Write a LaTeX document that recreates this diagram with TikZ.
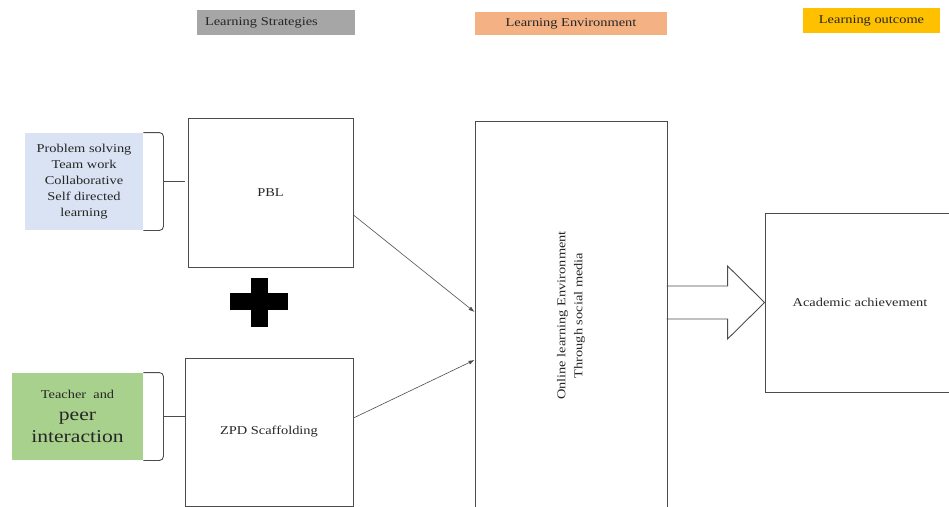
\documentclass[tikz,border=0pt]{standalone}
\usepackage{fontspec}
\setmainfont{Liberation Serif}[FakeStretch=1.2]
\usetikzlibrary{arrows.meta,calc}
\definecolor{stratgray}{HTML}{A6A6A6}
\definecolor{envorange}{HTML}{F4B183}
\definecolor{outgold}{HTML}{FFC000}
\definecolor{skillblue}{HTML}{DAE3F3}
\definecolor{peergreen}{HTML}{A9D18E}
\tikzset{
  box/.style={draw=black!70,line width=0.9pt,inner sep=0pt,text=black!85,
    font=\fontsize{12}{16}\selectfont},
  head/.style={inner sep=0pt,text=black!85,font=\fontsize{12}{14}\selectfont},
  link/.style={draw=black!70,line width=0.6pt,-{Latex[length=6pt,width=4pt]}},
  brc/.style={draw=black!70,line width=0.9pt,rounded corners=4pt},
}
\begin{document}
\begin{tikzpicture}[x=1pt,y=-1pt]
  \clip (0,0) rectangle (949,506);
  % Titulos
  \node[head,fill=stratgray,minimum height=25,text width=142,inner xsep=8pt,align=left]
    (strat) at (276,22.5) {Learning Strategies};
  \node[head,fill=envorange,minimum width=192,minimum height=23] (envhead) at (571,23.5) {Learning Environment};
  \node[head,fill=outgold,minimum width=137,minimum height=25] (outhead) at (871.5,20.5) {Learning outcome};
  % Estrategias
  \node[box,draw=none,fill=skillblue,minimum width=118,minimum height=97,align=center]
    (skills) at (84,181.5) {Problem solving\\Team work\\Collaborative\\Self directed\\learning};
  \node[box,minimum width=165,minimum height=149] (pbl) at (270.5,192.5) {PBL};
  \node[box,draw=none,fill=peergreen,minimum width=131,minimum height=87,align=center,
    font=\fontsize{18}{22}\selectfont] (peer) at (77.5,416.5)
    {{\fontsize{12}{14}\selectfont Teacher\ \ and}\\peer\\interaction};
  \node[box,minimum width=168,minimum height=148] (zpd) at (269,432) {ZPD Scaffolding};
  % Mais
  \fill (230,293) rectangle (288,310);
  \fill (251,278) rectangle (268,327);
  % Chaves
  \draw[brc] (skills.north east) -- ++(20,0) -- ($(skills.south east)+(20,0)$) -- (skills.south east);
  \draw[brc] ($(skills.east)+(20,0)$) -- ++(22,0);
  \draw[brc] (peer.north east) -- ++(20,0) -- ($(peer.south east)+(20,0)$) -- (peer.south east);
  \draw[brc] ($(peer.east)+(20,0)$) -- ++(22,0);
  % Ambiente
  \node[box,minimum width=192,minimum height=389] (env) at (571,315.5) {};
  \node[box,draw=none,rotate=90,align=center,font=\fontsize{12}{17}\selectfont] (envtext) at (env.center)
    {Online learning Environment\\Through social media};
  % Resultado
  \node[box,minimum width=190,minimum height=179] (out) at (860,302.5) {Academic achievement};
  % Setas
  \draw[link] ([yshift=-22.5pt]pbl.east) -- ([yshift=3.5pt]env.west);
  \draw[link] ([yshift=14pt]zpd.east) -- ([yshift=-44.5pt]env.west);
  \draw[draw=black!70,line width=0.9pt,line join=miter]
    ($(out.west)+(-98,-16.5)$) -- ($(out.west)+(-37,-16.5)$) -- ($(out.west)+(-37,-36.5)$)
    -- (out.west) -- ($(out.west)+(-37,36.5)$) -- ($(out.west)+(-37,16.5)$)
    -- ($(out.west)+(-98,16.5)$);
\end{tikzpicture}
\end{document}
